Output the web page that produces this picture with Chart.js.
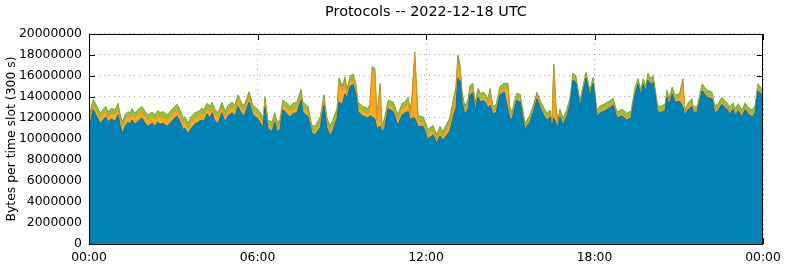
<!DOCTYPE html>
<html><head><meta charset="utf-8">
<script src="https://cdn.jsdelivr.net/npm/chart.js@4/dist/chart.umd.min.js"></script>
<style>html,body{margin:0;padding:0;background:#fff}canvas{display:block}</style>
</head><body>
<canvas id="c" width="785" height="268"></canvas>
<script>
// Time of each reading, minutes after 00:00 UTC
const slotMinutes = [
0,2,9,17,24,30,36,41,47,56,
62,66,71,77,83,88,92,98,105,113,
120,126,135,141,147,152,158,167,173,179,
188,194,201,205,212,218,226,233,241,246,
252,259,263,269,276,284,291,297,306,312,
318,323,329,333,342,350,359,365,372,376,
382,391,397,402,408,414,423,429,436,444,
453,457,468,476,483,494,502,508,515,521,
530,534,541,547,551,558,564,570,575,585,
596,600,605,611,615,622,626,632,639,650,
660,669,675,682,686,690,696,703,714,724,
735,743,750,756,765,771,778,784,788,793,
797,803,810,814,820,825,831,837,842,848,
852,857,863,870,878,887,895,899,904,910,
914,921,927,931,942,951,957,964,972,979,
985,989,993,998,1002,1006,1013,1021,1028,1034,
1040,1049,1055,1062,1066,1070,1077,1081,1085,1092,
1102,1113,1120,1128,1139,1149,1158,1167,1173,1179,
1184,1190,1194,1201,1205,1209,1214,1220,1231,1235,
1239,1246,1252,1262,1269,1273,1280,1288,1290,1299,
1310,1320,1331,1337,1344,1352,1359,1363,1369,1376,
1380,1387,1395,1402,1408,1417,1423,1429,1438,1440];

// Bytes per slot, in millions (bottom layer: blue)
const series1MB = [
11.1,11.4,12.8,12.1,11.5,11.8,12.1,11.6,11.9,11.7,
12.3,11.4,10.5,11.2,11.6,11.4,11.8,11.4,11.7,12.0,
11.5,11.2,11.5,11.2,11.6,11.4,11.5,11.2,11.5,11.8,
12.2,11.7,10.9,11.0,10.5,11.0,11.4,11.6,11.8,11.7,
12.4,12.0,12.5,11.7,11.5,12.5,11.6,12.2,12.5,12.2,
13.1,12.7,12.2,12.4,13.5,12.3,12.0,11.6,11.1,13.0,
11.0,10.7,11.6,10.7,10.9,12.8,12.4,12.1,12.4,12.5,
13.7,12.6,12.1,10.6,10.4,11.1,13.2,11.1,10.3,10.8,
12.0,13.5,13.3,14.3,13.8,15.0,15.2,14.3,12.6,12.2,
12.0,12.2,12.1,11.9,11.0,11.2,10.6,11.1,12.9,12.6,
11.3,12.3,12.5,12.6,11.8,12.0,12.0,11.2,11.2,10.0,
10.4,9.6,10.3,9.9,10.4,10.8,12.1,13.0,15.8,15.5,
13.5,12.3,12.9,14.2,14.4,12.6,14.0,13.5,13.7,13.4,
13.0,13.2,12.4,12.5,14.2,14.5,12.8,12.0,11.9,13.0,
13.7,13.5,12.0,10.9,11.6,12.8,13.8,13.0,12.2,11.8,
12.1,11.0,12.0,11.5,11.1,12.1,11.3,12.2,13.3,15.6,
15.4,13.0,14.3,15.8,15.0,14.0,15.3,13.8,12.1,12.5,
12.7,13.0,13.2,12.0,12.2,11.8,12.0,14.3,15.2,14.1,
15.2,14.5,15.6,15.2,15.4,14.4,12.7,12.5,12.7,14.0,
13.2,14.3,13.5,13.6,13.0,12.2,12.8,13.1,12.6,12.5,
14.6,14.0,13.8,12.5,12.7,13.3,13.0,12.8,12.4,12.8,
12.2,12.7,12.1,12.8,12.4,12.1,12.5,14.6,14.2,13.3];

// middle layer: orange
const series2MB = [
.45,.65,.45,.55,.55,.55,.55,.55,.55,.65,
.65,.65,.65,.65,.55,.65,.65,.65,.65,.65,
.65,.65,.65,.65,.65,.65,.65,.65,.65,.65,
.65,.65,.65,.65,.55,.65,.65,.55,.65,.65,
.55,.65,.55,.65,.55,.55,.55,.55,.55,.55,
.65,.55,.55,.55,.55,.45,.45,.55,.45,.55,
.35,.45,.45,.45,.45,.45,.55,.55,.55,.55,
.55,.45,.55,.25,.35,.55,.55,.55,.45,.55,
.45,1.85,1.35,1.15,.45,.55,.55,.55,.45,.45,
.45,.65,4.35,4.35,.75,3.65,.15,.55,.35,.45,
.55,.65,.55,.95,.45,1.55,5.85,.55,.45,.45,
.45,.35,.45,.35,.65,.75,1.15,1.55,1.75,1.05,
.55,.35,.45,.45,.45,.35,.35,.35,.35,.35,
.35,1.15,.25,.35,.35,.35,2.05,.55,.25,.35,
.25,.35,.35,.15,.25,.25,.25,.25,.35,.25,
.25,.25,4.75,1.05,.25,.35,.25,.25,.25,.25,
.25,.25,.25,.15,.15,.25,.15,.25,.25,.25,
.25,.25,.25,.15,.25,.25,.25,.25,.15,.15,
.15,.15,.25,.15,.25,.15,.25,.15,.25,.25,
.25,.25,.25,.35,2.35,.15,.25,.35,.15,.15,
.25,.25,.25,.25,.25,.25,.25,.25,.25,.25,
.25,.25,.25,.25,.25,.25,.25,.25,.15,.25];

// top layer: green
const series3MB = [
.45,.45,.5,.45,.4,.45,.45,.4,.45,.45,
.45,.4,.45,.45,.45,.45,.45,.4,.45,.45,
.45,.45,.4,.45,.45,.45,.45,.45,.45,.45,
.45,.45,.45,.45,.45,.45,.45,.45,.45,.45,
.45,.45,.45,.45,.45,.45,.45,.45,.45,.45,
.45,.45,.45,.45,.45,.45,.45,.45,.45,.45,
.45,.45,.45,.45,.45,.45,.45,.45,.45,.45,
.45,.45,.45,.45,.45,.45,.45,.45,.45,.45,
.45,.45,.4,.45,.45,.45,.45,.45,.45,.45,
.45,.45,.45,.45,.45,.45,.45,.45,.45,.45,
.45,.45,.45,.45,.45,.45,.45,.45,.45,.45,
.45,.45,.45,.45,.45,.45,.45,.45,.45,.45,
.45,.45,.45,.45,.45,.45,.45,.45,.45,.45,
.45,.45,.45,.45,.45,.45,.45,.45,.45,.45,
.4,.4,.4,.4,.4,.4,.4,.4,.4,.4,
.4,.4,.4,.4,.4,.4,.4,.4,.4,.4,
.4,.4,.4,.4,.4,.4,.4,.4,.4,.4,
.4,.4,.4,.4,.4,.4,.4,.4,.4,.4,
.4,.4,.4,.4,.4,.4,.4,.4,.4,.4,
.4,.4,.4,.4,.4,.4,.4,.4,.4,.4,
.4,.4,.4,.4,.4,.4,.4,.4,.4,.4,
.4,.4,.4,.4,.4,.4,.4,.4,.4,.4];

const xTickMinutes = [0,360,720,1080,1440];
const xTickLabels = ['00:00','06:00','12:00','18:00','00:00'];
const yTickValues = [0,2000000,4000000,6000000,8000000,10000000,12000000,14000000,16000000,18000000,20000000];
const chartTitle = 'Protocols -- 2022-12-18 UTC';
const yTitle = 'Bytes per time slot (300 s)';

const FONT = "'DejaVu Sans', sans-serif";
const toPoints = arr => arr.map((v,i) => ({x: slotMinutes[i], y: v * 1e6}));

const framePlugin = {
  id: 'frame',
  beforeDatasetsDraw(chart) {
    const {ctx, chartArea: a, scales} = chart;
    ctx.save();
    ctx.strokeStyle = '#000';
    ctx.lineWidth = 1;
    ctx.beginPath();
    yTickValues.forEach(v => {
      const p = Math.round(scales.y.getPixelForValue(v)) + 0.5;
      ctx.moveTo(a.left, p); ctx.lineTo(a.left + 6, p);
      ctx.moveTo(a.right - 6, p); ctx.lineTo(a.right, p);
    });
    xTickMinutes.forEach(v => {
      const p = Math.round(scales.x.getPixelForValue(v)) + 0.5;
      ctx.moveTo(p, a.bottom); ctx.lineTo(p, a.bottom - 6);
      ctx.moveTo(p, a.top); ctx.lineTo(p, a.top + 6);
    });
    ctx.stroke();
    ctx.restore();
  },
  afterDatasetsDraw(chart) {
    const {ctx, chartArea: a} = chart;
    ctx.save();
    ctx.strokeStyle = '#000';
    ctx.lineWidth = 1;
    ctx.strokeRect(Math.round(a.left) + 0.5, Math.round(a.top) + 0.5,
                   Math.round(a.right - a.left) - 1, Math.round(a.bottom - a.top));
    ctx.restore();
  }
};

new Chart(document.getElementById('c'), {
  type: 'line',
  data: {
    datasets: [
      {data: toPoints(series1MB), backgroundColor: '#0082b4', borderColor: '#0073a0', borderWidth: 1, fill: 'origin', pointRadius: 0, tension: 0},
      {data: toPoints(series2MB), backgroundColor: '#fcaa1e', borderColor: '#d8921c', borderWidth: 1, fill: '-1', pointRadius: 0, tension: 0},
      {data: toPoints(series3MB), backgroundColor: '#8cc63f', borderColor: '#74a434', borderWidth: 1, fill: '-1', pointRadius: 0, tension: 0}
    ]
  },
  options: {
    responsive: false,
    animation: false,
    devicePixelRatio: 1,
    layout: {padding: {left: 0, right: 22, top: 0, bottom: 0}},
    plugins: {
      legend: {display: false},
      tooltip: {enabled: false},
      title: {display: true, fullSize: false, text: chartTitle, color: '#000',
              font: {family: FONT, size: 14.4, weight: 'normal'},
              padding: {top: 4, bottom: 12.7}}
    },
    scales: {
      x: {
        type: 'linear', min: 0, max: 1440,
        afterBuildTicks: s => { s.ticks = xTickMinutes.map(v => ({value: v})); },
        afterFit: s => { s.height = 24; s.paddingRight = 22; s.paddingLeft = 0; },
        ticks: {callback: v => xTickLabels[xTickMinutes.indexOf(v)], color: '#000',
                font: {family: FONT, size: 12.4}, padding: 6, maxRotation: 0, autoSkip: false},
        grid: {color: '#a8a8a8', drawTicks: false, lineWidth: 1},
        border: {display: false, dash: [1, 4]}
      },
      y: {
        stacked: true, min: 0, max: 20000000,
        afterBuildTicks: s => { s.ticks = yTickValues.map(v => ({value: v})); },
        afterFit: s => { s.width = 89; },
        ticks: {callback: v => String(v), color: '#000', font: {family: FONT, size: 12.4}, padding: 7},
        grid: {color: '#a8a8a8', drawTicks: false, lineWidth: 1},
        border: {display: false, dash: [1, 4]},
        title: {display: true, text: yTitle, color: '#000', font: {family: FONT, size: 12.4}, padding: {top: 4, bottom: 0}}
      }
    }
  },
  plugins: [framePlugin]
});
</script>
</body></html>
